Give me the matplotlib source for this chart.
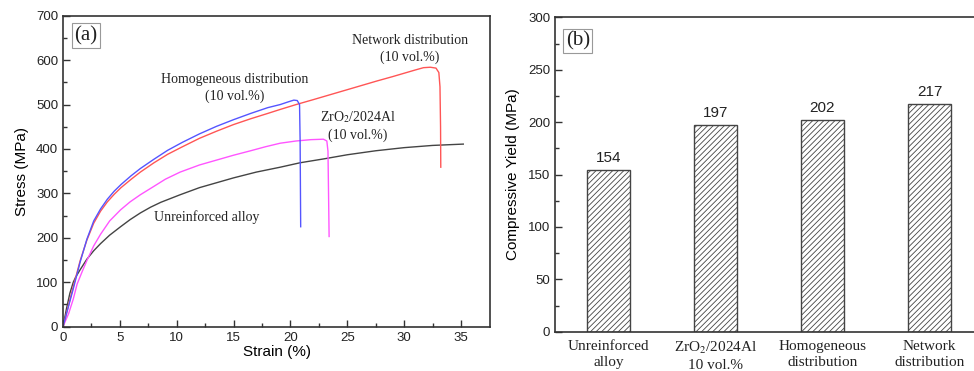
import numpy as np
import matplotlib
matplotlib.use("Agg")
import matplotlib.pyplot as plt

plt.rcParams['font.family'] = ['Liberation Sans', 'DejaVu Sans']
plt.rcParams['mathtext.fontset'] = 'stix'
plt.rcParams['hatch.linewidth'] = 0.6
plt.rcParams['hatch.color'] = '#555555'

# (a) stress-strain curves
homog_strain = [0, 0.4, 0.9, 1.5, 2.1, 2.7, 3.3, 3.9, 4.5, 5.1, 6, 6.8, 8, 9.2, 10.5, 12, 13.5, 15,
                16.5, 18, 19.1, 19.8, 20.3, 20.6, 20.8, 20.85, 20.9]
homog_stress = [0, 38, 85, 145, 197, 238, 265, 287, 305, 320, 340, 356, 377, 397, 415, 434, 451, 466,
                480, 493, 500, 506, 510, 509, 500, 420, 225]

network_strain = [0, 0.4, 0.9, 1.5, 2.1, 2.7, 3.3, 3.9, 4.5, 5.1, 6, 6.8, 8, 9.2, 10.5, 12, 13.5, 15,
                  16.5, 18, 19.1, 20.5, 22, 24, 26, 27.6, 29, 30.2, 31, 31.7, 32.3, 32.8, 33.05,
                  33.15, 33.2, 33.22]
network_stress = [0, 40, 90, 148, 195, 233, 260, 281, 298, 313, 332, 348, 369, 388, 405, 424, 440, 455,
                  468, 480, 489, 500, 511, 526, 541, 553, 563, 572, 578, 583, 584, 582, 572,
                  540, 450, 359]

zro2_strain = [0, 0.5, 0.9, 1.24, 1.7, 2.1, 2.7, 3.3, 4.1, 5.06, 5.9, 6.8, 8, 9, 10.3, 12, 13.5, 15,
               16.5, 17.8, 19.1, 20.5, 21.8, 22.9, 23.2, 23.3, 23.35, 23.4]
zro2_stress = [0, 30, 62, 96, 125, 149, 182, 208, 238, 263, 281, 297, 316, 332, 348, 364, 375, 386,
               396, 405, 413, 418, 421, 422, 418, 395, 300, 203]

alloy_strain = [0, 0.3, 0.6, 0.9, 1.1, 1.5, 2.1, 2.7, 3.3, 4.1, 5.06, 5.9, 6.8, 7.7, 8.6, 10.3, 12,
                13.5, 15, 17, 19.1, 20.85, 23, 25, 27.5, 30, 32.5, 35.2]
alloy_stress = [0, 40, 75, 100, 111, 128, 152, 171, 187, 206, 225, 241, 256, 269, 280, 297, 313,
                324, 335, 348, 359, 369, 378, 387, 396, 403, 408, 411]

# (b) compressive yield
categories = ['Unreinforced\nalloy', 'ZrO$_2$/2024Al\n10 vol.%', 'Homogeneous\ndistribution', 'Network\ndistribution']
yield_vals = [154, 197, 202, 217]

fig = plt.figure(figsize=(9.74, 3.71), dpi=100)
ax1 = fig.add_axes([0.0647, 0.1194, 0.4384, 0.8383])
ax2 = fig.add_axes([0.5698, 0.1059, 0.4394, 0.8474])

edge = '#333333'
for ax in (ax1, ax2):
    for s in ax.spines.values():
        s.set_linewidth(1.2)
        s.set_color(edge)
    ax.tick_params(which='both', direction='in', colors=edge, labelcolor='#222222', labelsize=9.5, width=1.0)
    ax.tick_params(which='major', length=5)
    ax.tick_params(which='minor', length=3)

lw = 1.0
ax1.plot(alloy_strain, alloy_stress, color='#444444', lw=lw)
ax1.plot(zro2_strain, zro2_stress, color='#ff55ff', lw=lw)
ax1.plot(network_strain, network_stress, color='#ff5555', lw=lw)
ax1.plot(homog_strain, homog_stress, color='#5555ff', lw=lw)

ax1.set_xlim(0, 37.55)
ax1.set_ylim(0, 700)
ax1.set_xticks(np.arange(0, 36, 5))
ax1.set_xticks(np.arange(2.5, 36, 5), minor=True)
ax1.set_yticks(np.arange(0, 701, 100))
ax1.set_yticks(np.arange(50, 700, 100), minor=True)
ax1.set_xlabel('Strain (%)', fontsize=11, labelpad=1)
ax1.set_ylabel('Stress (MPa)', fontsize=11, labelpad=5)

serif = ['Liberation Serif', 'DejaVu Serif']
tkw = dict(family=serif, fontsize=10, ha='center', va='center', color='#222222', linespacing=1.35)
ax1.text(30.5, 625, 'Network distribution\n(10 vol.%)', **tkw)
ax1.text(15.1, 537, 'Homogeneous distribution\n(10 vol.%)', **tkw)
ax1.text(25.9, 452, 'ZrO$_2$/2024Al\n(10 vol.%)', **tkw)
ax1.text(12.6, 247, 'Unreinforced alloy', **tkw)

box = dict(boxstyle='square,pad=0.12', fc='white', ec='#999999', lw=0.8)
ax1.text(0.027, 0.905, '(a)', transform=ax1.transAxes, family=serif, fontsize=15,
         ha='left', va='bottom', bbox=box, color='#222222')

# (b)
x = np.arange(1, len(yield_vals) + 1)
ax2.bar(x, yield_vals, width=0.40, facecolor='white', edgecolor='#444444',
        linewidth=1.0, hatch='//////')
for xi, v in zip(x, yield_vals):
    ax2.text(xi, v + 5, str(v), ha='center', va='bottom', fontsize=11, color='#222222')
ax2.set_xlim(0.5, 4.5)
ax2.set_ylim(0, 300)
ax2.set_xticks(x)
ax2.set_xticklabels(categories, family=serif, fontsize=11, linespacing=1.25)
ax2.tick_params(axis='x', length=0, pad=6)
ax2.set_yticks(np.arange(0, 301, 50))
ax2.set_yticks(np.arange(25, 300, 50), minor=True)
ax2.set_ylabel('Compressive Yield (MPa)', fontsize=11, labelpad=6)
ax2.text(0.025, 0.895, '(b)', transform=ax2.transAxes, family=serif, fontsize=15,
         ha='left', va='bottom', bbox=box, color='#222222')

fig.savefig('out.png', dpi=100)
